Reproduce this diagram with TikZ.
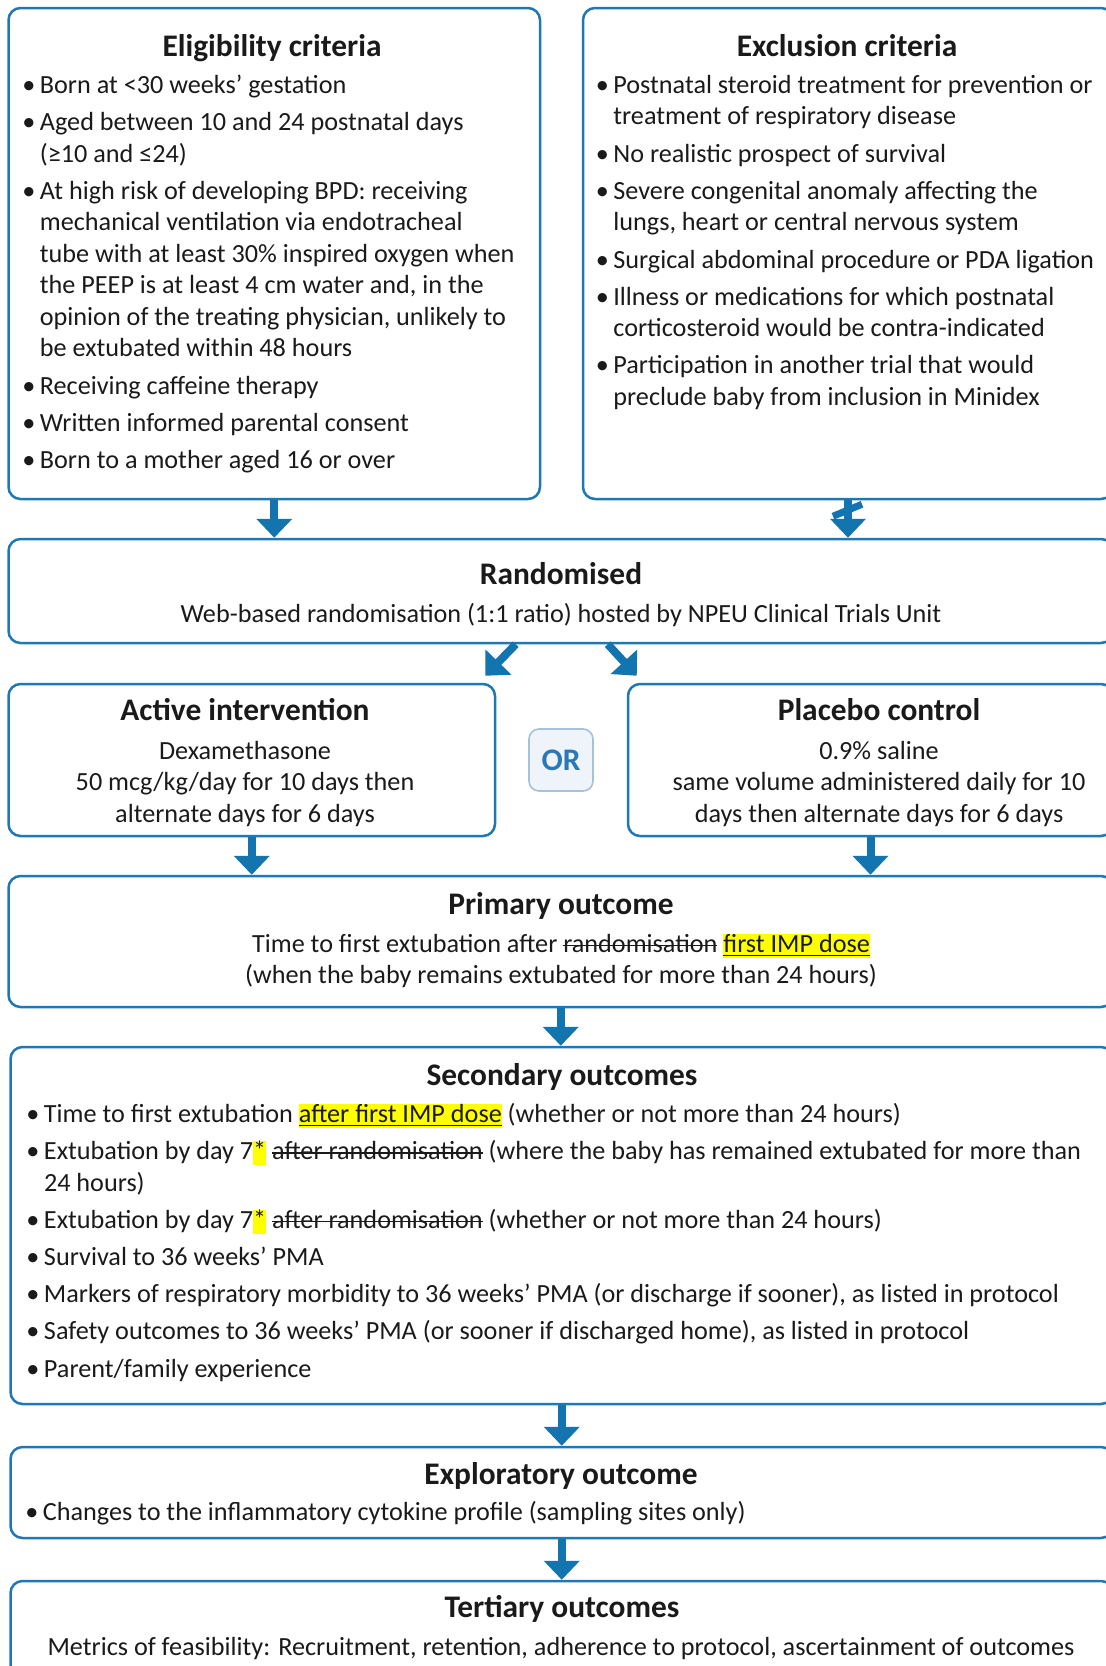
\documentclass[tikz,border=0pt]{standalone}
\usepackage{fontspec}
\setmainfont{Carlito}
\usetikzlibrary{arrows.meta,calc}
\definecolor{bcol}{HTML}{1F78B4}
\definecolor{acol}{HTML}{1375B0}
\definecolor{txt}{HTML}{1A1A1A}
\definecolor{orfill}{HTML}{EEF4FA}
\definecolor{ordraw}{HTML}{A4C2DC}
\definecolor{ortext}{HTML}{2A78B8}
\definecolor{hly}{HTML}{FFFF00}
\newsavebox\tmpbx
\newcommand\bul{\llap{\makebox[11pt][c]{\textbullet}}}
\newcommand\hlt[1]{{\setlength{\fboxsep}{0pt}\colorbox{hly}{\rule[-2.9pt]{0pt}{11.6pt}#1}}}
\newcommand\stk[1]{\sbox\tmpbx{#1}\rlap{\rule[3pt]{\wd\tmpbx}{0.6pt}}\usebox\tmpbx}
\newcommand\uln[1]{\sbox\tmpbx{#1}\rlap{\rule[-1.7pt]{\wd\tmpbx}{0.55pt}}\usebox\tmpbx}
\newcommand\ins[1]{\hlt{\uln{#1}}}
\newcommand\fst{\rule{0pt}{11pt}}
\newcommand\ig{\\[2.85pt]}
\tikzset{
  box/.style={draw=bcol, line width=1.25pt, rounded corners=6pt, inner sep=0pt, fill=white},
  ttl/.style={font=\fontsize{15.7}{18.9}\selectfont\bfseries, text=txt, inner sep=0pt, anchor=base},
  bodyl/.style={font=\fontsize{13.1}{15.75}\selectfont, text=txt, inner sep=0pt, align=left, anchor=north west},
  bodyc/.style={font=\fontsize{13.1}{15.75}\selectfont, text=txt, inner sep=0pt, align=center, anchor=north},
  line1/.style={font=\fontsize{13.1}{15.75}\selectfont, text=txt, inner sep=0pt, anchor=base},
  arr/.style={acol, line width=4pt, -{Triangle[width=17.5pt,length=9.5pt]}},
}
\begin{document}
\begin{tikzpicture}[x=0.5pt,y=-0.5pt]
\path[use as bounding box] (0,0) rectangle (1106,1666);
\clip (0,0) rectangle (1106,1666);
\fill[white] (0,0) rectangle (1106,1666);

% boxes
\node[box, minimum width=265.75pt, minimum height=245.5pt] (elig) at (274.25,253.5) {};
\node[box, minimum width=265pt, minimum height=245.5pt] (excl) at (848,253.5) {};
\node[box, minimum width=552.25pt, minimum height=52pt] (rand) at (560.75,591) {};
\node[box, minimum width=243.25pt, minimum height=76pt] (active) at (251.75,760) {};
\node[box, minimum width=242.5pt, minimum height=76pt] (placebo) at (870.5,760) {};
\node[draw=ordraw, fill=orfill, rounded corners=5pt, line width=0.8pt, minimum width=32pt, minimum height=31pt, inner sep=0pt, text=ortext, font=\fontsize{15.7}{18}\selectfont\bfseries] (or) at (561,760) {OR};
\node[box, minimum width=552.25pt, minimum height=65.5pt] (prim) at (560.75,941.5) {};
\node[box, minimum width=551.25pt, minimum height=178.5pt] (sec) at (561.75,1225.5) {};
\node[box, minimum width=551.25pt, minimum height=45.5pt] (expl) at (561.75,1492.5) {};
\node[box, minimum width=551.25pt, minimum height=59.5pt] (tert) at (561.75,1640.5) {};

% eligibility
\node[ttl] (eligT) at (272,56) {Eligibility criteria};
\node[bodyl] (eligB) at (39.5,71) {\fst\bul Born at <30 weeks’ gestation\ig
\bul Aged between 10 and 24 postnatal days\\
(≥10 and ≤24)\ig
\bul At high risk of developing BPD: receiving\\
mechanical ventilation via endotracheal\\
tube with at least 30\% inspired oxygen when\\
the PEEP is at least 4 cm water and, in the\\
opinion of the treating physician, unlikely to\\
be extubated within 48 hours\ig
\bul Receiving caffeine therapy\ig
\bul Written informed parental consent\ig
\bul Born to a mother aged 16 or over};

% exclusion
\node[ttl] (exclT) at (847,56) {Exclusion criteria};
\node[bodyl] (exclB) at (613,71) {\fst\bul Postnatal steroid treatment for prevention or\\
treatment of respiratory disease\ig
\bul No realistic prospect of survival\ig
\bul Severe congenital anomaly affecting the\\
lungs, heart or central nervous system\ig
\bul Surgical abdominal procedure or PDA ligation\ig
\bul Illness or medications for which postnatal\\
corticosteroid would be contra-indicated\ig
\bul Participation in another trial that would\\
preclude baby from inclusion in Minidex};

% randomised
\node[ttl] (randT) at (561,584) {Randomised};
\node[line1] (randB) at (561,622) {Web-based randomisation (1:1 ratio) hosted by NPEU Clinical Trials Unit};

% arms
\node[ttl] (actT) at (245,720) {Active intervention};
\node[bodyc] (actB) at (245,737) {\fst Dexamethasone\\50 mcg/kg/day for 10 days then\\alternate days for 6 days};
\node[ttl] (plaT) at (879,720) {Placebo control};
\node[bodyc] (plaB) at (879,737) {\fst 0.9\% saline\\same volume administered daily for 10\\days then alternate days for 6 days};

% primary
\node[ttl] (primT) at (561,914) {Primary outcome};
\node[bodyc] (primB) at (561,930) {\fst Time to first extubation after \stk{randomisation} \ins{first IMP dose}\\(when the baby remains extubated for more than 24 hours)};

% secondary
\node[ttl] (secT) at (562,1085) {Secondary outcomes};
\node[bodyl] (secB) at (43.6,1100) {\fst\bul Time to first extubation \ins{after first IMP dose} (whether or not more than 24 hours)\ig
\bul Extubation by day 7\hlt{*} \stk{after randomisation} (where the baby has remained extubated for more than\\
24 hours)\ig
\bul Extubation by day 7\hlt{*} \stk{after randomisation} (whether or not more than 24 hours)\ig
\bul Survival to 36 weeks’ PMA\ig
\bul Markers of respiratory morbidity to 36 weeks’ PMA (or discharge if sooner), as listed in protocol\ig
\bul Safety outcomes to 36 weeks’ PMA (or sooner if discharged home), as listed in protocol\ig
\bul Parent/family experience};

% exploratory
\node[ttl] (explT) at (561,1484) {Exploratory outcome};
\node[bodyl] (explB) at (42.5,1498) {\fst\bul Changes to the inflammatory cytokine profile (sampling sites only)};

% tertiary
\node[ttl] (tertT) at (562,1617) {Tertiary outcomes};
\node[line1] (tertB) at (561,1655) {Metrics of feasibility: Recruitment, retention, adherence to protocol, ascertainment of outcomes};

% arrows
\draw[arr] (elig.south) -- (elig.south |- rand.north);
\draw[arr] (excl.south) -- (excl.south |- rand.north);
\coordinate (xm) at ($(excl.south)+(0,10)$);
\draw[acol, line width=3.5pt] ($(xm)+(-15,6)$) -- ($(xm)+(14,-6)$);
\draw[arr] ($(rand.south)+(-45,0)$) -- ($(active.north east)+(-11,-7)$);
\draw[arr] ($(rand.south)+(47,0)$) -- ($(placebo.north west)+(10,-7)$);
\draw[arr] (active.south) -- (active.south |- prim.north);
\draw[arr] (placebo.south) -- (placebo.south |- prim.north);
\draw[arr] (prim.south) -- (prim.south |- sec.north);
\draw[arr] (sec.south) -- (sec.south |- expl.north);
\draw[arr] (expl.south) -- (expl.south |- tert.north);
\end{tikzpicture}
\end{document}
